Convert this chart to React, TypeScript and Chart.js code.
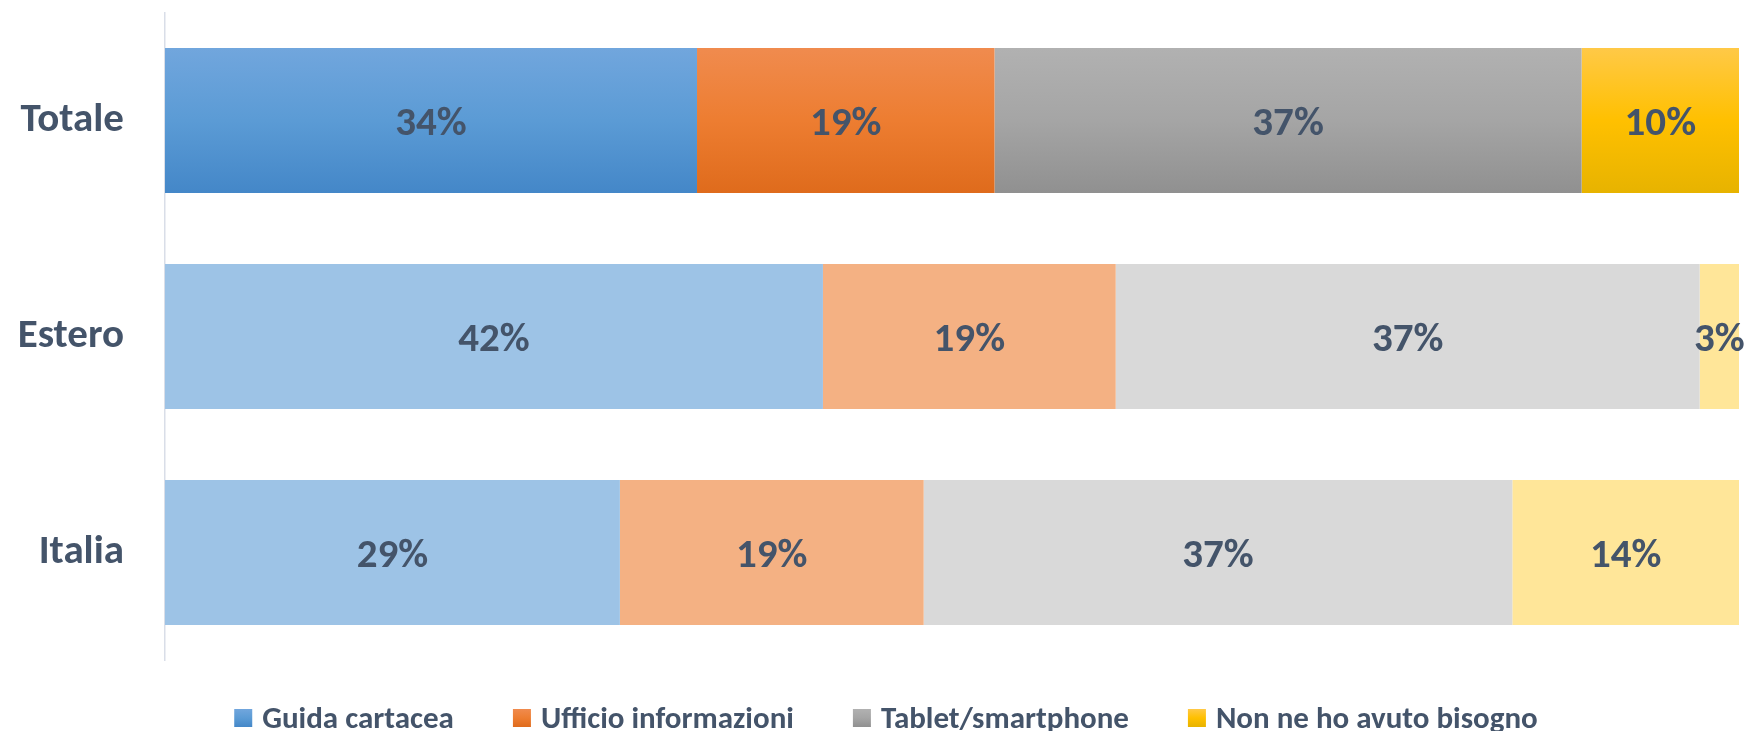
import React, { useEffect, useRef } from "react";
import { Chart, registerables } from "chart.js";

Chart.register(...registerables);

const categories = ["Totale", "Estero", "Italia"];
const seriesNames = ["Guida cartacea", "Ufficio informazioni", "Tablet/smartphone", "Non ne ho avuto bisogno"];
const guidaCartacea = [33.8, 41.8, 28.9];
const ufficioInformazioni = [18.9, 18.6, 19.3];
const tabletSmartphone = [37.3, 37.1, 37.4];
const nonNeHoAvutoBisogno = [10.0, 2.5, 14.4];

// [top, middle, bottom] gradient for highlighted row, flat light colour for the others
const strongColors = [
  ["#71a6dd", "#5b9bd5", "#4487c8"],
  ["#f08b4e", "#ed7d31", "#df6b1c"],
  ["#b1b1b1", "#a5a5a5", "#909090"],
  ["#ffc947", "#ffc000", "#e7b300"],
];
const lightColors = ["#9dc3e6", "#f4b183", "#d9d9d9", "#ffe699"];

const FONT = "Carlito, Calibri, Lato, 'Open Sans', sans-serif";
const TEXT_COLOR = "#44546a";
const BAR_PCT = 0.671;

function makeGrad(ctx: CanvasRenderingContext2D, y0: number, y1: number, stops: string[]) {
  const g = ctx.createLinearGradient(0, y0, 0, y1);
  g.addColorStop(0, stops[0]);
  g.addColorStop(0.5, stops[1]);
  g.addColorStop(1, stops[2]);
  return g;
}

const dataLabelPlugin = {
  id: "dataLabels",
  afterDatasetsDraw(chart: any) {
    const ctx = chart.ctx as CanvasRenderingContext2D;
    ctx.save();
    const size = 41;
    ctx.font = `bold ${size}px ${FONT}`;
    ctx.fillStyle = TEXT_COLOR;
    ctx.textAlign = "center";
    ctx.textBaseline = "alphabetic";
    chart.data.datasets.forEach((ds: any, di: number) => {
      const meta = chart.getDatasetMeta(di);
      meta.data.forEach((bar: any, i: number) => {
        const v = ds.data[i];
        const cx = (bar.x + bar.base) / 2;
        ctx.fillText(`${Math.round(v)}%`, cx, bar.y + size * 0.36);
      });
    });
    ctx.restore();
  },
};

const legendPlugin = {
  id: "customLegend",
  afterDraw(chart: any) {
    const ctx = chart.ctx as CanvasRenderingContext2D;
    ctx.save();
    const size = 31;
    ctx.font = `bold ${size}px ${FONT}`;
    const box = 18;
    const gapBox = 10;
    const gapItem = 59;
    const widths = seriesNames.map((n) => ctx.measureText(n).width);
    const total = widths.reduce((a, w) => a + box + gapBox + w, 0) + gapItem * (seriesNames.length - 1);
    let x = 886 - total / 2;
    const baseline = 728;
    const boxTop = 709;
    seriesNames.forEach((name, i) => {
      ctx.fillStyle = makeGrad(ctx, boxTop, boxTop + box, strongColors[i]);
      ctx.fillRect(x, boxTop, box, box);
      ctx.fillStyle = TEXT_COLOR;
      ctx.textAlign = "left";
      ctx.textBaseline = "alphabetic";
      ctx.fillText(name, x + box + gapBox, baseline);
      x += box + gapBox + widths[i] + gapItem;
    });
    ctx.restore();
  },
};

export default function App() {
  const ref = useRef<HTMLCanvasElement | null>(null);

  useEffect(() => {
    document.body.style.margin = "0";
    const canvas = ref.current;
    if (!canvas) return;
    const seriesValues = [guidaCartacea, ufficioInformazioni, tabletSmartphone, nonNeHoAvutoBisogno];
    const chart = new Chart(canvas, {
      type: "bar",
      data: {
        labels: categories,
        datasets: seriesValues.map((vals, si) => ({
          label: seriesNames[si],
          data: vals,
          backgroundColor: (c: any) => {
            if (c.dataIndex !== 0) return lightColors[si];
            const ch = c.chart;
            const ys = ch.scales && ch.scales.y;
            if (!ch.chartArea || !ys) return strongColors[si][1];
            const cy = ys.getPixelForValue(0);
            const step = ys.getPixelForValue(1) - cy;
            const half = (step * BAR_PCT) / 2;
            return makeGrad(ch.ctx, cy - half, cy + half, strongColors[si]);
          },
          borderWidth: 0,
          categoryPercentage: 1,
          barPercentage: BAR_PCT,
        })),
      },
      options: {
        indexAxis: "y",
        responsive: false,
        animation: false,
        layout: { padding: { top: 12.5, right: 7, bottom: 70.5, left: 0 } },
        plugins: {
          legend: { display: false },
          title: { display: false },
          tooltip: { enabled: false },
        },
        scales: {
          x: {
            stacked: true,
            min: 0,
            max: 100,
            display: false,
          },
          y: {
            stacked: true,
            grid: { display: false, drawTicks: false },
            border: { display: true, color: "#d9dee8", width: 1.5 },
            ticks: {
              padding: 41,
              color: TEXT_COLOR,
              font: { family: FONT, size: 41, weight: "bold" },
            },
            afterFit: (scale: any) => {
              scale.width = 165;
              scale.paddingTop = 0;
              scale.paddingBottom = 0;
            },
          },
        },
      },
      plugins: [dataLabelPlugin, legendPlugin],
    } as any);
    return () => chart.destroy();
  }, []);

  return (
    <div style={{ width: 1746, height: 731 }}>
      <canvas ref={ref} width={1746} height={731} style={{ display: "block" }} />
    </div>
  );
}
